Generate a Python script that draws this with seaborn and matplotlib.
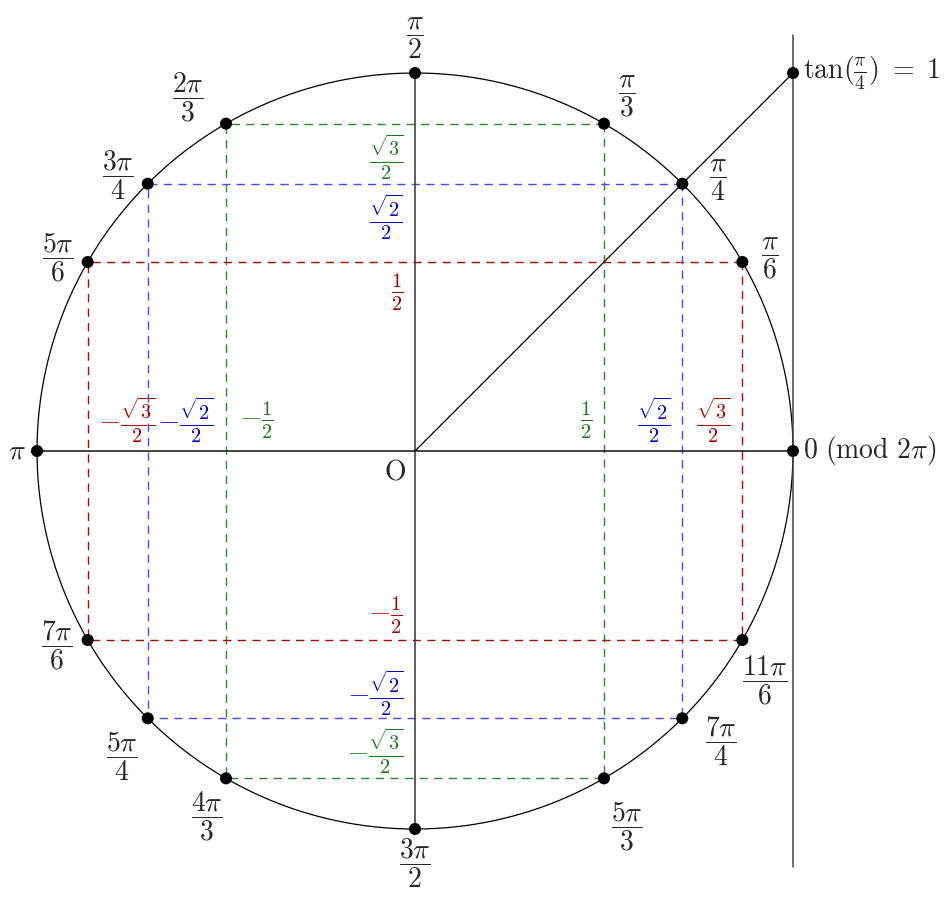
import numpy as np
import matplotlib
matplotlib.use('Agg')
import matplotlib.pyplot as plt
import seaborn as sns
import pandas as pd

sns.set_style('white')
plt.rcParams['mathtext.fontset'] = 'cm'
plt.rcParams['font.family'] = ['DejaVu Serif']

# angles of the marked points (in units of pi) and their labels
angles = [0, 1/6, 1/4, 1/3, 1/2, 2/3, 3/4, 5/6, 1, 7/6, 5/4, 4/3, 3/2, 5/3, 7/4, 11/6]
angle_labels = [r'$0\ (\mathrm{mod}\ 2\pi)$', r'$\dfrac{\pi}{6}$', r'$\dfrac{\pi}{4}$', r'$\dfrac{\pi}{3}$',
                r'$\dfrac{\pi}{2}$', r'$\dfrac{2\pi}{3}$', r'$\dfrac{3\pi}{4}$', r'$\dfrac{5\pi}{6}$',
                r'$\pi$', r'$\dfrac{7\pi}{6}$', r'$\dfrac{5\pi}{4}$', r'$\dfrac{4\pi}{3}$',
                r'$\dfrac{3\pi}{2}$', r'$\dfrac{5\pi}{3}$', r'$\dfrac{7\pi}{4}$', r'$\dfrac{11\pi}{6}$']

# dashed rectangles: base angle (in units of pi) and colour
rect_angles = [1/3, 1/4, 1/6]
rect_colors = ['#2a8a2a', '#4848ff', '#b00808']
text_colors = ['#1a7a1a', '#0000d0', '#a80000']

# value labels on the axes
y_vals = [np.sqrt(3)/2, np.sqrt(2)/2, 1/2, -1/2, -np.sqrt(2)/2, -np.sqrt(3)/2]
y_texts = [r'$\frac{\sqrt{3}}{2}$', r'$\frac{\sqrt{2}}{2}$', r'$\frac{1}{2}$',
           r'$-\frac{1}{2}$', r'$-\frac{\sqrt{2}}{2}$', r'$-\frac{\sqrt{3}}{2}$']
y_cols = [0, 1, 2, 2, 1, 0]
x_vals = [-np.sqrt(3)/2, -np.sqrt(2)/2, -1/2, 1/2, np.sqrt(2)/2, np.sqrt(3)/2]
x_texts = [r'$-\frac{\sqrt{3}}{2}$', r'$-\frac{\sqrt{2}}{2}$', r'$-\frac{1}{2}$',
           r'$\frac{1}{2}$', r'$\frac{\sqrt{2}}{2}$', r'$\frac{\sqrt{3}}{2}$']
x_cols = [2, 1, 0, 0, 1, 2]

tan_angle = 1/4

W, H = 949, 899
cx, cy, R = 415, 451, 378  # pixel position of O and radius
fig = plt.figure(figsize=(W/100, H/100), dpi=100)
ax = fig.add_axes([0, 0, 1, 1])
ax.set_xlim(-cx/R, (W-cx)/R)
ax.set_ylim(-(H-cy)/R, cy/R)
ax.set_aspect('equal')
ax.axis('off')

# dashed rectangles
for a, c in zip(rect_angles, rect_colors):
    x, y = np.cos(a*np.pi), np.sin(a*np.pi)
    df = pd.DataFrame({'x': [x, -x, -x, x, x], 'y': [y, y, -y, -y, y]})
    sns.lineplot(data=df, x='x', y='y', sort=False, estimator=None, ax=ax,
                 color=c, lw=1.0, dashes=False, linestyle=(0, (6, 4.5)))

# circle
t = np.linspace(0, 2*np.pi, 721)
ax.plot(np.cos(t), np.sin(t), color='black', lw=0.9)

# axes
ax.plot([-1, 1], [0, 0], color='#111111', lw=1.1)
ax.plot([0, 0], [-1, 1], color='#333333', lw=1.1)

# tangent line and ray
ax.plot([1, 1], [-1.1, 1.1], color='#444444', lw=1.1)
tv = np.tan(tan_angle*np.pi)
ax.plot([0, 1], [0, tv], color='black', lw=0.9)

# points
pts = pd.DataFrame({'x': np.cos(np.array(angles)*np.pi), 'y': np.sin(np.array(angles)*np.pi)})
sns.scatterplot(data=pts, x='x', y='y', color='black', s=75, edgecolor='none', ax=ax, zorder=5)
ax.scatter([1], [tv], color='black', s=75, edgecolor='none', zorder=5)

# angle labels
offsets = [(10, 0), (28, 4), (36, 4), (23, 27), (0, 35), (-38, 26), (-30, 9), (-30, 5),
           (-20, 0), (-31, -5), (-26, -38), (-19, -38), (0, -34), (23, -48), (39, -23), (22, -40)]
for a, lab, off in zip(angles, angle_labels, offsets):
    ha = 'left' if a == 0 else 'center'
    ax.annotate(lab, (np.cos(a*np.pi), np.sin(a*np.pi)), xytext=off, textcoords='offset pixels',
                ha=ha, va='center', fontsize=20)

ax.annotate(r'$\tan(\frac{\pi}{4})\ =\ 1$', (1, tv), xytext=(10, 0), textcoords='offset pixels',
            ha='left', va='center', fontsize=20)
ax.annotate(r'$\mathrm{O}$', (0, 0), xytext=(-20, -21), textcoords='offset pixels',
            ha='center', va='center', fontsize=20)

# value labels
y_off = [34, 34, 30, -25, -25, -27]
for v, lab, ci, dy in zip(y_vals, y_texts, y_cols, y_off):
    ax.annotate(lab, (0, v), xytext=(-12, -dy), textcoords='offset pixels',
                ha='right', va='center', fontsize=21, color=text_colors[ci])
x_off = [39, 38, 30, -18, -28, -29]
for v, lab, ci, dx in zip(x_vals, x_texts, x_cols, x_off):
    ax.annotate(lab, (v, 0), xytext=(dx, 31), textcoords='offset pixels',
                ha='center', va='center', fontsize=21, color=text_colors[ci])

fig.savefig('out.png', dpi=100)
